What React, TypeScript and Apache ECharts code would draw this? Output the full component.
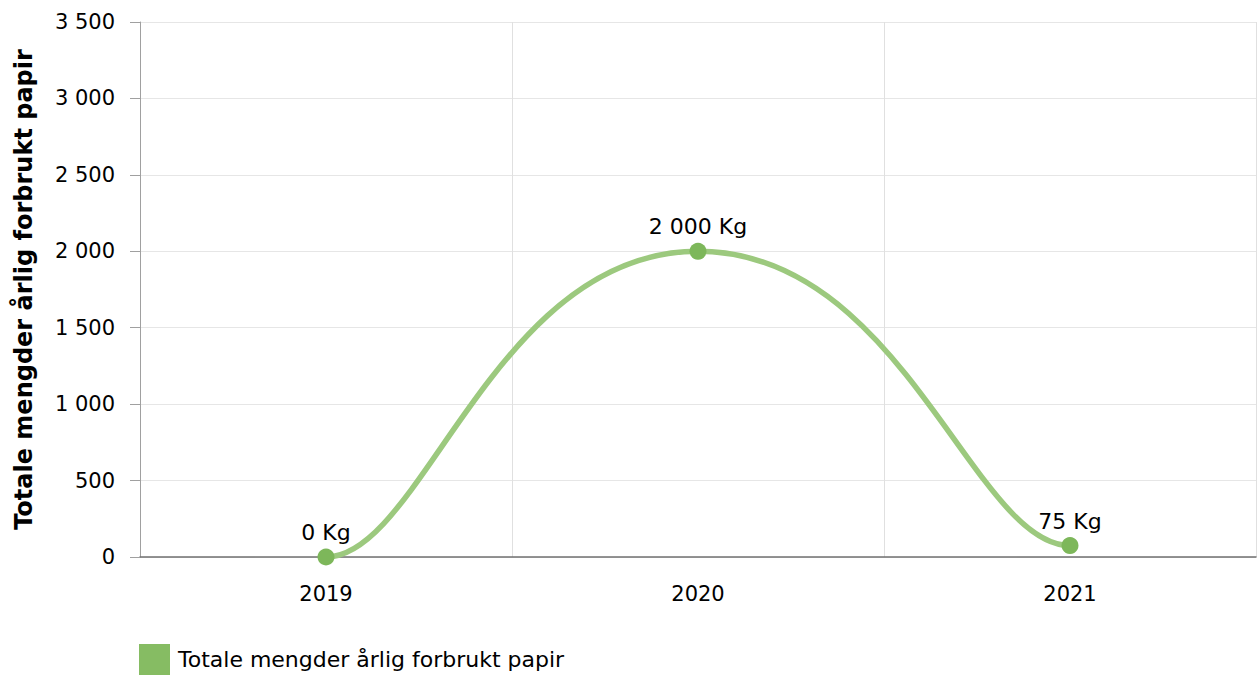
import React, { useEffect, useRef } from "react";
import * as echarts from "echarts";

const categories = ["2019", "2020", "2021"];
const values = [0, 2000, 75];
const seriesName = "Totale mengder årlig forbrukt papir";
const yAxisTitle = "Totale mengder årlig forbrukt papir";

const fmt = (v: number) => String(v).replace(/\B(?=(\d{3})+(?!\d))/g, " ");
const FONT = "DejaVu Sans";
const LINE_COLOR = "#9cc97e";
const DOT_COLOR = "#7db75a";

export default function App() {
  const ref = useRef<HTMLDivElement>(null);
  useEffect(() => {
    const chart = echarts.init(ref.current!, null, { renderer: "svg" });
    chart.setOption({
      animation: false,
      textStyle: { fontFamily: FONT },
      grid: { left: 140, right: 1, top: 22, bottom: 120, containLabel: false },
      legend: {
        left: 139,
        top: 644,
        padding: 0,
        itemWidth: 31,
        itemHeight: 31,
        icon: "rect",
        textStyle: { fontFamily: FONT, fontSize: 22, color: "#000", padding: [0, 0, 0, 3] },
        data: [{ name: seriesName, itemStyle: { color: "#86bc63" } }],
      },
      xAxis: {
        type: "category",
        data: categories,
        boundaryGap: true,
        axisLine: { lineStyle: { color: "#707070", width: 1.5 } },
        axisTick: { alignWithLabel: true, length: 10, lineStyle: { color: "#c8c8c8" } },
        axisLabel: { fontFamily: FONT, fontSize: 21, color: "#000", margin: 26 },
        splitLine: { show: true, lineStyle: { color: "#e0e0e0" } },
      },
      yAxis: {
        type: "value",
        min: 0,
        max: 3500,
        interval: 500,
        name: yAxisTitle,
        nameLocation: "middle",
        nameGap: 104,
        nameTextStyle: { fontFamily: FONT, fontSize: 24, fontWeight: "bold", color: "#000" },
        axisLine: { show: true, lineStyle: { color: "#a0a0a0" } },
        axisTick: { show: true, length: 10, lineStyle: { color: "#a0a0a0" } },
        axisLabel: {
          fontFamily: FONT,
          fontSize: 21,
          color: "#000",
          margin: 25,
          formatter: (v: number) => fmt(v),
        },
        splitLine: { show: true, lineStyle: { color: "#e6e6e6" } },
      },
      series: [
        {
          name: "curve",
          type: "custom",
          data: values.map((v, i) => [i, v]),
          z: 2,
          renderItem: (params: any, api: any) => {
            if (params.dataIndex !== 0) return null;
            const pts = values.map((v, i) => api.coord([i, v]));
            let d = `M${pts[0][0]},${pts[0][1]}`;
            for (let i = 1; i < pts.length; i++) {
              const p0 = pts[i - 1];
              const p1 = pts[i];
              const dx = p1[0] - p0[0];
              const k0 = i - 1 === 0 ? 0.26 : 0.55;
              const k1 = i === pts.length - 1 ? 0.26 : 0.55;
              d += ` C${p0[0] + dx * k0},${p0[1]} ${p1[0] - dx * k1},${p1[1]} ${p1[0]},${p1[1]}`;
            }
            return {
              type: "path",
              shape: { pathData: d },
              style: { fill: "none", stroke: LINE_COLOR, lineWidth: 5.5 },
            };
          },
        },
        {
          name: seriesName,
          type: "line",
          data: values,
          z: 3,
          symbol: "circle",
          symbolSize: 17,
          itemStyle: { color: DOT_COLOR },
          lineStyle: { width: 0, opacity: 0 },
          label: {
            show: true,
            position: "top",
            distance: 5,
            fontFamily: FONT,
            fontSize: 22,
            color: "#000",
            formatter: (p: any) => fmt(p.value) + " Kg",
          },
        },
      ],
    });
    return () => chart.dispose();
  }, []);
  return <div ref={ref} style={{ position: "absolute", left: 0, top: 0, width: 1257, height: 677 }} />;
}
